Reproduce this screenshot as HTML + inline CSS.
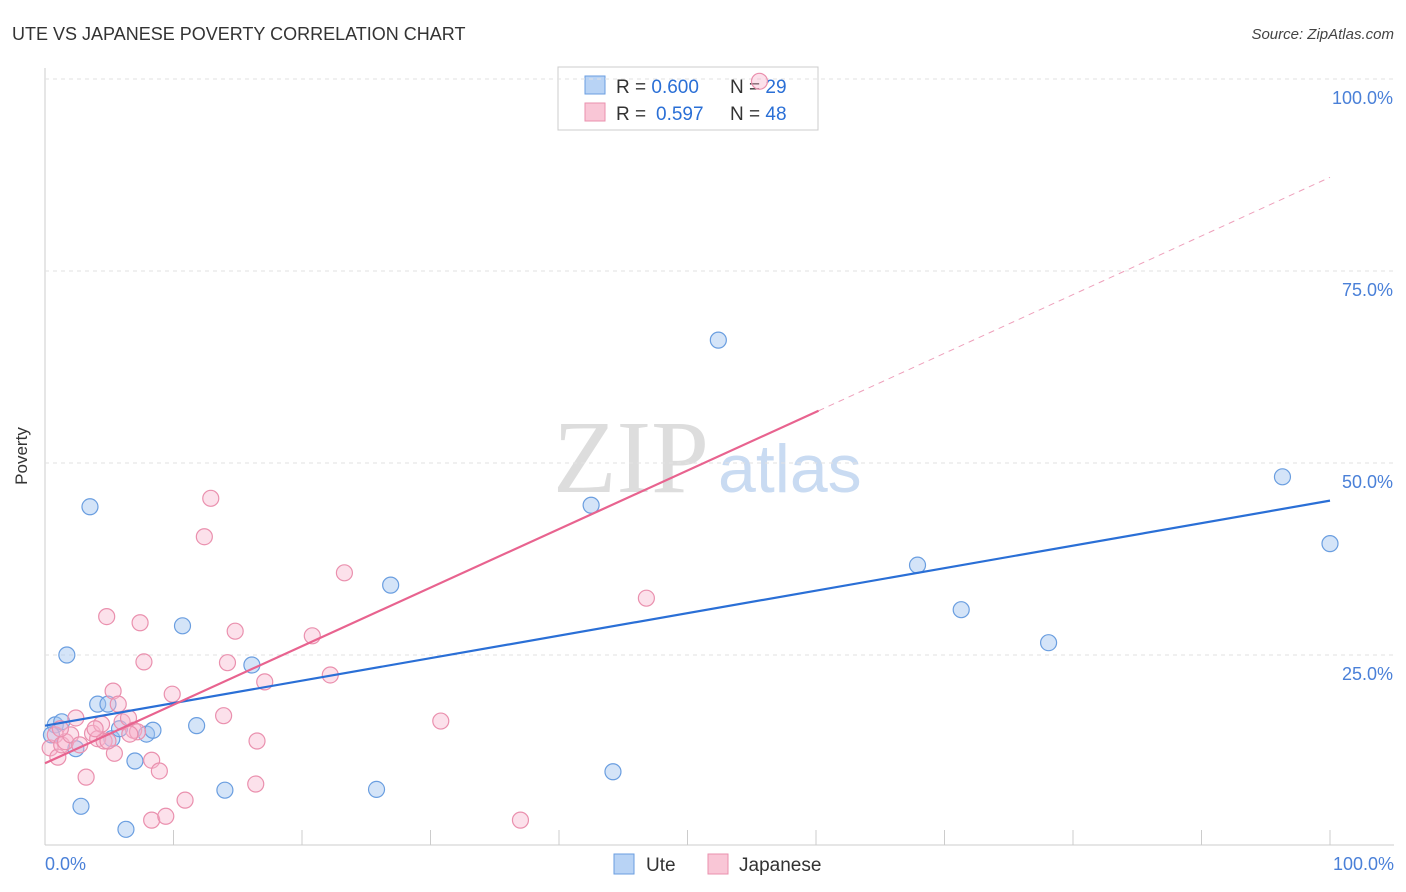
<!DOCTYPE html>
<html><head><meta charset="utf-8"><style>
body{margin:0;background:#fff;font-family:"Liberation Sans",sans-serif;}
#wrap{position:relative;width:1406px;height:892px;overflow:hidden;}
</style></head><body>
<div id="wrap">
<svg id="svg" width="1406" height="892">
<text x="12" y="40" font-size="18" fill="#333">UTE VS JAPANESE POVERTY CORRELATION CHART</text>
<text x="1394" y="39" font-size="15" fill="#444" text-anchor="end" font-style="italic">Source: ZipAtlas.com</text>
<text x="27" y="456" font-size="17" fill="#333" text-anchor="middle" transform="rotate(-90 27 456)">Poverty</text>
<text x="553" y="492" font-size="104" fill="#ddd" font-family="Liberation Serif">ZIP</text>
<text x="718" y="492" font-size="68" fill="#c9dbf2">atlas</text>
<g>
<rect x="558" y="67" width="260" height="63" fill="#fff" stroke="#ccc"/>
<rect x="585" y="76" width="20" height="18" fill="#b8d3f5" stroke="#6a9ee0"/>
<rect x="585" y="103" width="20" height="18" fill="#f9c6d6" stroke="#ea90ae"/>
<text x="616" y="93" font-size="19" fill="#333">R = <tspan fill="#2a6fd6">0.600</tspan><tspan x="730">N = </tspan><tspan fill="#2a6fd6">29</tspan></text>
<text x="616" y="120" font-size="19" fill="#333">R = <tspan fill="#2a6fd6" x="656">0.597</tspan><tspan x="730">N = </tspan><tspan fill="#2a6fd6">48</tspan></text>
</g>
<g id="grid"></g><g id="lines"></g><g id="pts"></g>
<g>
<rect x="614" y="854" width="20" height="20" fill="#b8d3f5" stroke="#6a9ee0"/>
<text x="646" y="871" font-size="19" fill="#333">Ute</text>
<rect x="708" y="854" width="20" height="20" fill="#f9c6d6" stroke="#ea90ae"/>
<text x="739" y="871" font-size="19" fill="#333">Japanese</text>
</g>
<text x="45" y="870" font-size="18" fill="#4a80d8">0.0%</text>
<text x="1394" y="870" font-size="18" fill="#4a80d8" text-anchor="end">100.0%</text>
</svg></div>
<script>
const yTicks=[100,75,50,25];
const uteX=[0.8,1.3,1.7,2.4,2.8,3.5,4.1,4.9,5.2,5.8,6.3,7.0,7.9,8.4,10.7,11.8,14.0,16.1,25.8,26.9,42.5,44.2,52.4,67.9,71.3,78.1,96.3,100,0.5];
const uteY=[15.9,16.3,25.0,12.8,5.3,44.3,18.6,18.6,14.1,15.4,2.3,11.2,14.7,15.2,28.8,15.8,7.4,23.7,7.5,34.1,44.5,9.8,66.0,36.7,30.9,26.6,48.2,39.5,14.6];
const jpX=[0.4,0.8,1.0,1.3,1.6,2.0,2.4,2.7,3.2,3.7,4.1,4.4,4.6,4.8,5.3,5.4,5.7,6.0,6.5,6.9,7.2,7.4,7.7,8.3,8.9,8.3,9.4,9.9,10.9,12.4,12.9,13.9,14.2,14.8,16.4,16.5,17.1,20.8,22.2,23.3,30.8,37.0,46.8,55.6,4.9,3.9,1.2,6.6];
const jpY=[12.9,14.6,11.7,13.3,13.7,14.6,16.8,13.3,9.1,14.8,14.1,16.0,13.8,30.0,20.3,12.2,18.6,16.3,16.8,15.2,15.0,29.2,24.1,11.3,9.9,3.5,4.0,19.9,6.1,40.4,45.4,17.1,24.0,28.1,8.2,13.8,21.5,27.5,22.4,35.7,16.4,3.5,32.4,99.7,13.8,15.4,15.4,14.7];
const uteLine=[[0,15.8],[100,45.1]];
const jpLine=[[0,10.9],[60.2,56.8]];
const jpDash=[[60.2,56.8],[100,87.2]];
const X=v=>45+v*12.85, Y=v=>847-v*7.68;
const NS='http://www.w3.org/2000/svg';
function mk(t,a,p){const e=document.createElementNS(NS,t);for(const k in a)e.setAttribute(k,a[k]);p.appendChild(e);return e;}
const grid=document.getElementById('grid');
mk('line',{x1:45,y1:68,x2:45,y2:845,stroke:'#ccc'},grid);
mk('line',{x1:45,y1:845,x2:1394,y2:845,stroke:'#ccc'},grid);
for(let i=0;i<=10;i++){const l=mk('line',{x1:X(i*10),y1:830,x2:X(i*10),y2:845,stroke:'#ccc'},grid);

}
yTicks.forEach(t=>{const l=mk('line',{x1:45,y1:Y(t),x2:1394,y2:Y(t),stroke:'#e2e2e2','stroke-dasharray':'4,4'},grid);


const tx=mk('text',{x:1393,y:Y(t)+25,'font-size':18,fill:'#4a80d8','text-anchor':'end'},grid);tx.textContent=t.toFixed(1)+'%';

});
const pts=document.getElementById('pts');
uteX.forEach((x,i)=>{const c=mk('circle',{cx:X(x),cy:Y(uteY[i]),r:8,fill:'rgba(160,195,240,0.45)',stroke:'#6a9ee0','stroke-width':1.2},pts);

});
jpX.forEach((x,i)=>{const c=mk('circle',{cx:X(x),cy:Y(jpY[i]),r:8,fill:'rgba(248,180,205,0.4)',stroke:'#ea90ae','stroke-width':1.2},pts);

});
const lines=document.getElementById('lines');
let l1=mk('line',{x1:X(uteLine[0][0]),y1:Y(uteLine[0][1]),x2:X(uteLine[1][0]),y2:Y(uteLine[1][1]),stroke:'#2a6fd6','stroke-width':2.2},pts);


let l2=mk('line',{x1:X(jpLine[0][0]),y1:Y(jpLine[0][1]),x2:X(jpLine[1][0]),y2:Y(jpLine[1][1]),stroke:'#e8638f','stroke-width':2.2},pts);


let l3=mk('line',{x1:X(jpDash[0][0]),y1:Y(jpDash[0][1]),x2:X(jpDash[1][0]),y2:Y(jpDash[1][1]),stroke:'#eea0bb','stroke-width':1,'stroke-dasharray':'6,5'},lines);


</script></body></html>
